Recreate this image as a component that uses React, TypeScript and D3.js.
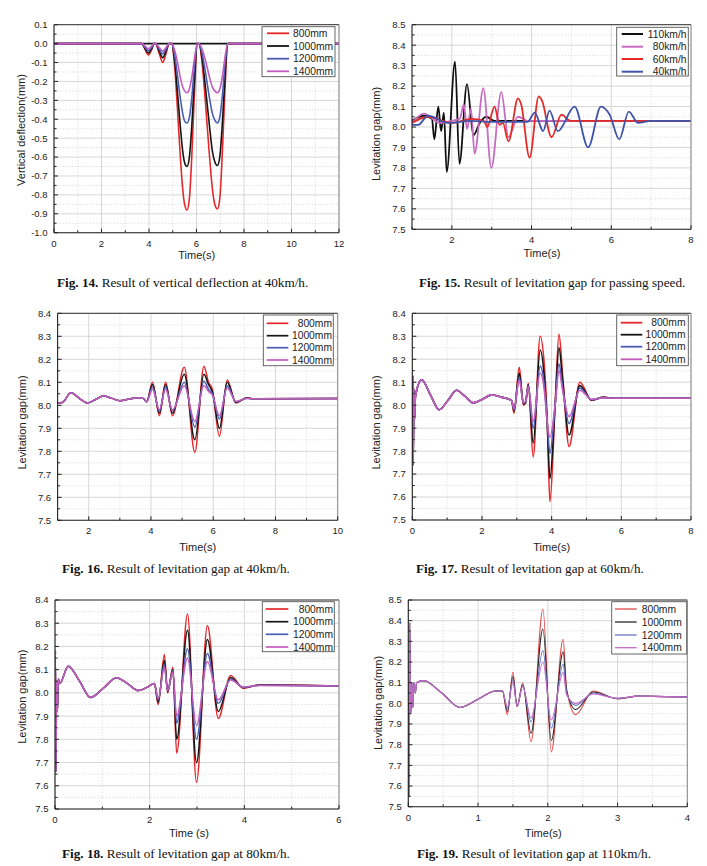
import React from "react";
import * as d3 from "d3";

const W = 707;
const H = 866;

// ---------- Fig. 14: vertical deflection at 40 km/h ----------
const deflTime = [0, 3.7, 3.85, 3.97, 4.1, 4.22, 4.27, 4.45, 4.58, 4.7, 4.85, 4.95, 5.08, 5.2, 5.32, 5.42, 5.5, 5.6, 5.7, 5.8, 5.9, 6.04, 6.1, 6.25, 6.4, 6.55, 6.67, 6.77, 6.88, 6.98, 7.08, 7.18, 7.32, 12];
const defl800 = [0, 0, -0.035, -0.06, -0.035, 0, 0, -0.06, -0.1, -0.06, 0, 0, -0.12, -0.35, -0.6, -0.77, -0.85, -0.88, -0.82, -0.6, -0.3, 0, 0, -0.12, -0.35, -0.6, -0.77, -0.85, -0.875, -0.82, -0.6, -0.3, 0, 0];
const defl1000 = [0, 0, -0.03, -0.05, -0.03, 0, 0, -0.045, -0.075, -0.045, 0, 0, -0.09, -0.26, -0.44, -0.57, -0.63, -0.65, -0.6, -0.44, -0.22, 0, 0, -0.09, -0.26, -0.44, -0.57, -0.625, -0.645, -0.6, -0.44, -0.22, 0, 0];
const defl1200 = [0, 0, -0.022, -0.038, -0.022, 0, 0, -0.033, -0.055, -0.033, 0, 0, -0.06, -0.17, -0.29, -0.37, -0.41, -0.42, -0.39, -0.29, -0.14, 0, 0, -0.06, -0.17, -0.29, -0.37, -0.405, -0.42, -0.39, -0.29, -0.14, 0, 0];
const defl1400 = [0, 0, -0.015, -0.028, -0.015, 0, 0, -0.024, -0.04, -0.024, 0, 0, -0.035, -0.1, -0.18, -0.23, -0.25, -0.26, -0.24, -0.18, -0.09, 0, 0, -0.035, -0.1, -0.18, -0.23, -0.25, -0.26, -0.24, -0.18, -0.09, 0, 0];
const zeroLineTime = [0, 12];
const zeroLineValue = [0, 0];

// ---------- Fig. 15: levitation gap for passing speed ----------
const gap110Time = [1.0, 1.3, 1.5, 1.56, 1.66, 1.73, 1.8, 1.87, 2.08, 2.19, 2.38, 2.54, 2.7, 2.86, 3.07, 3.5, 8];
const gap110 = [8.03, 8.055, 8.04, 7.94, 8.1, 7.98, 8.07, 7.78, 8.32, 7.82, 8.21, 7.96, 8.02, 8.05, 8.03, 8.03, 8.03];
const gap80Time = [1.0, 1.3, 1.7, 2.0, 2.2, 2.3, 2.38, 2.48, 2.57, 2.79, 2.99, 3.24, 3.42, 3.66, 3.9, 8];
const gap80 = [8.02, 8.065, 8.02, 8.03, 8.04, 8.11, 7.99, 8.09, 7.87, 8.19, 7.8, 8.17, 7.95, 8.05, 8.03, 8.03];
const gap60Time = [1.0, 1.4, 2.0, 2.5, 2.8, 2.89, 3.07, 3.2, 3.28, 3.42, 3.66, 3.74, 3.95, 4.18, 4.26, 4.5, 4.75, 4.98, 8];
const gap60 = [8.02, 8.05, 8.02, 8.04, 8.03, 8.0, 8.1, 8.01, 8.02, 7.93, 8.14, 8.11, 7.85, 8.15, 8.13, 7.95, 8.06, 8.03, 8.03];
const gap40Time = [1.0, 1.15, 1.4, 1.9, 2.5, 3.0, 3.9, 4.08, 4.29, 4.45, 4.66, 5.08, 5.42, 5.74, 5.96, 6.2, 6.44, 6.67, 7.0, 8];
const gap40 = [8.01, 8.01, 8.055, 8.02, 8.03, 8.025, 8.025, 8.07, 7.98, 8.08, 7.98, 8.1, 7.9, 8.1, 8.06, 7.94, 8.075, 8.02, 8.03, 8.03];

// ---------- Fig. 16: levitation gap at 40 km/h ----------
const f16Time = [1.0, 1.15, 1.43, 1.7, 1.97, 2.22, 2.47, 2.75, 3.0, 3.3, 3.6, 3.75, 3.86, 4.05, 4.27, 4.47, 4.69, 5.07, 5.41, 5.7, 5.85, 5.97, 6.2, 6.45, 6.73, 7.08, 7.3, 10];
const f16Lead = [8.01, 8.012, 8.055, 8.03, 8.01, 8.025, 8.04, 8.03, 8.02, 8.027, 8.033, 8.03, 8.015];
const f16Tail800 = [8.1, 7.955, 8.1, 7.955, 8.165, 7.795, 8.17, 8.1, 8.07, 7.865, 8.11, 8.01, 8.033, 8.028, 8.03];
const f16Tail1000 = [8.09, 7.965, 8.09, 7.965, 8.135, 7.85, 8.135, 8.09, 8.06, 7.9, 8.1, 8.012, 8.032, 8.028, 8.03];
const f16Tail1200 = [8.08, 7.975, 8.08, 7.975, 8.1, 7.905, 8.105, 8.07, 8.05, 7.94, 8.085, 8.015, 8.031, 8.028, 8.03];
const f16Tail1400 = [8.07, 7.98, 8.07, 7.98, 8.085, 7.93, 8.085, 8.06, 8.045, 7.955, 8.075, 8.017, 8.03, 8.028, 8.03];

// ---------- Fig. 17: levitation gap at 60 km/h ----------
const f17Time = [0, 0.012, 0.025, 0.045, 0.065, 0.09, 0.27, 0.52, 0.77, 1.02, 1.27, 1.5, 1.75, 2.0, 2.28, 2.55, 2.85, 2.92, 3.07, 3.19, 3.25, 3.33, 3.47, 3.67, 3.8, 3.87, 3.95, 4.1, 4.21, 4.32, 4.5, 4.81, 5.15, 5.48, 5.8, 8];
const f17Lead = [8.03, 8.13, 7.74, 8.07, 7.94, 8.04, 8.11, 8.045, 7.98, 8.02, 8.065, 8.04, 8.01, 8.025, 8.045, 8.035, 8.02];
const f17Tail800 = [7.965, 8.165, 8.0, 8.01, 8.095, 7.775, 8.3, 8.15, 7.95, 7.58, 8.0, 8.31, 8.12, 7.82, 8.1, 8.02, 8.035, 8.03, 8.03];
const f17Tail1000 = [7.975, 8.14, 8.005, 8.01, 8.09, 7.835, 8.24, 8.1, 7.93, 7.68, 8.0, 8.25, 8.1, 7.87, 8.085, 8.022, 8.034, 8.03, 8.03];
const f17Tail1200 = [7.98, 8.12, 8.01, 8.015, 8.085, 7.9, 8.17, 8.07, 7.93, 7.79, 8.0, 8.18, 8.07, 7.92, 8.075, 8.024, 8.033, 8.03, 8.03];
const f17Tail1400 = [7.985, 8.11, 8.01, 8.015, 8.08, 7.93, 8.14, 8.05, 7.93, 7.86, 8.0, 8.15, 8.06, 7.95, 8.065, 8.025, 8.032, 8.03, 8.03];

// ---------- Fig. 18: levitation gap at 80 km/h ----------
const f18Time = [0, 0.008, 0.018, 0.035, 0.05, 0.07, 0.1, 0.28, 0.52, 0.75, 1.02, 1.3, 1.53, 1.76, 1.95, 2.1, 2.18, 2.31, 2.38, 2.49, 2.57, 2.8, 2.99, 3.22, 3.45, 3.71, 3.98, 4.33, 6];
const f18Lead = [8.03, 8.18, 7.66, 8.05, 7.92, 8.06, 8.04, 8.115, 8.05, 7.98, 8.02, 8.065, 8.04, 8.01, 8.025, 8.04];
const f18Tail800 = [7.95, 8.165, 8.0, 8.11, 7.74, 8.34, 7.615, 8.29, 7.89, 8.075, 8.02, 8.035, 8.03];
const f18Tail1000 = [7.96, 8.14, 8.005, 8.1, 7.8, 8.27, 7.7, 8.23, 7.92, 8.065, 8.022, 8.034, 8.03];
const f18Tail1200 = [7.97, 8.12, 8.01, 8.095, 7.87, 8.19, 7.8, 8.17, 7.955, 8.06, 8.024, 8.033, 8.03];
const f18Tail1400 = [7.975, 8.11, 8.01, 8.09, 7.9, 8.15, 7.86, 8.135, 7.97, 8.055, 8.025, 8.032, 8.03];

// ---------- Fig. 19: levitation gap at 110 km/h ----------
const f19Time = [0, 0.01, 0.02, 0.035, 0.05, 0.065, 0.08, 0.1, 0.12, 0.22, 0.48, 0.74, 1.0, 1.25, 1.35, 1.42, 1.5, 1.56, 1.64, 1.76, 1.93, 2.05, 2.22, 2.27, 2.4, 2.65, 3.0, 3.3, 4];
const f19Lead = [8.0, 7.55, 8.39, 7.95, 8.1, 7.98, 8.1, 8.05, 8.1, 8.11, 8.05, 7.98, 8.02, 8.06, 8.06];
const f19Tail800 = [7.945, 8.15, 7.985, 8.1, 7.815, 8.455, 7.765, 8.31, 8.07, 7.945, 8.06, 8.022, 8.035, 8.03];
const f19Tail1000 = [7.96, 8.13, 7.985, 8.09, 7.855, 8.36, 7.82, 8.25, 8.06, 7.97, 8.055, 8.023, 8.035, 8.03];
const f19Tail1200 = [7.975, 8.115, 7.985, 8.085, 7.91, 8.255, 7.88, 8.19, 8.05, 7.99, 8.05, 8.024, 8.035, 8.03];
const f19Tail1400 = [7.98, 8.1, 7.985, 8.08, 7.93, 8.2, 7.92, 8.15, 8.04, 8.0, 8.045, 8.025, 8.035, 8.03];

const spanLabels = ["800mm", "1000mm", "1200mm", "1400mm"];
const speedLabels = ["110km/h", "80km/h", "60km/h", "40km/h"];

const RED = "#e5282b";
const BLACK = "#151515";
const BLUE = "#4a5db3";
const PINK = "#c35dbd";

type Series = { label: string; color: string; t: number[]; v: number[]; legend?: boolean };

type Legend = {
  x0: number; x1: number; y0: number; y1: number;
  lx0: number; lx1: number; tx: number; anchor: "start" | "end";
  rows: number[];
};

type PanelSpec = {
  id: string;
  left: number; right: number; top: number; bottom: number;
  xDomain: [number, number]; yDomain: [number, number];
  xMajor: number[]; xMinor: number[];
  yStep: number;
  xTitle: string; yTitle: string;
  xTitlePos: [number, number]; yTitlePos: [number, number];
  legend: Legend;
  figNo: string; caption: string; captionPos: [number, number];
  series: Series[];
  lineWidth: number;
};

function spanSeries(t: number[], lead: number[], tails: number[][], colors: string[]): Series[] {
  return tails.map((tail, i) => ({
    label: spanLabels[i],
    color: colors[i],
    t,
    v: lead.concat(tail),
  }));
}

const panels: PanelSpec[] = [
  {
    id: "f14",
    left: 54, right: 339, top: 24.7, bottom: 232.7,
    xDomain: [0, 12], yDomain: [-1.0, 0.1],
    xMajor: d3.range(0, 13, 2), xMinor: d3.range(1, 12, 2),
    yStep: 0.1,
    xTitle: "Time(s)", yTitle: "Vertical deflection(mm)",
    xTitlePos: [196.7, 259], yTitlePos: [21, 130],
    legend: { x0: 262, x1: 335, y0: 26.7, y1: 76.7, lx0: 267, lx1: 289, tx: 293, anchor: "start", rows: [33.3, 46, 58.7, 71.3] },
    figNo: "Fig. 14.", caption: " Result of vertical deflection at 40km/h.", captionPos: [57, 287],
    series: [
      { label: "zero", color: BLACK, t: zeroLineTime, v: zeroLineValue, legend: false },
      { label: spanLabels[0], color: RED, t: deflTime, v: defl800 },
      { label: spanLabels[1], color: BLACK, t: deflTime, v: defl1000 },
      { label: spanLabels[2], color: BLUE, t: deflTime, v: defl1200 },
      { label: spanLabels[3], color: PINK, t: deflTime, v: defl1400 },
    ],
    lineWidth: 1.6,
  },
  {
    id: "f15",
    left: 412, right: 691, top: 24.7, bottom: 229.3,
    xDomain: [1, 8], yDomain: [7.5, 8.5],
    xMajor: [2, 4, 6, 8], xMinor: [1, 3, 5, 7],
    yStep: 0.1,
    xTitle: "Time(s)", yTitle: "Levitation gap(mm)",
    xTitlePos: [542, 257], yTitlePos: [375.7, 134],
    legend: { x0: 616.7, x1: 688.3, y0: 27.3, y1: 76, lx0: 621.7, lx1: 643, tx: 686.5, anchor: "end", rows: [34, 46.7, 59, 71.7] },
    figNo: "Fig. 15.", caption: " Result of levitation gap for passing speed.", captionPos: [419, 287],
    series: [
      { label: speedLabels[0], color: "#111111", t: gap110Time, v: gap110 },
      { label: speedLabels[1], color: "#c56cc1", t: gap80Time, v: gap80 },
      { label: speedLabels[2], color: "#e42a27", t: gap60Time, v: gap60 },
      { label: speedLabels[3], color: "#3f53a9", t: gap40Time, v: gap40 },
    ],
    lineWidth: 1.8,
  },
  {
    id: "f16",
    left: 57.6, right: 337.7, top: 313.3, bottom: 520.3,
    xDomain: [1, 10], yDomain: [7.5, 8.4],
    xMajor: [2, 4, 6, 8, 10], xMinor: [1, 3, 5, 7, 9],
    yStep: 0.1,
    xTitle: "Time(s)", yTitle: "Levitation gap(mm)",
    xTitlePos: [197.7, 550.5], yTitlePos: [21.7, 422.5],
    legend: { x0: 263.3, x1: 333.3, y0: 315, y1: 365.7, lx0: 266.7, lx1: 288.3, tx: 332, anchor: "end", rows: [323.3, 335.7, 347.7, 360] },
    figNo: "Fig. 16.", caption: " Result of levitation gap at 40km/h.", captionPos: [62, 573],
    series: spanSeries(f16Time, f16Lead, [f16Tail800, f16Tail1000, f16Tail1200, f16Tail1400], [RED, BLACK, BLUE, PINK]),
    lineWidth: 1.5,
  },
  {
    id: "f17",
    left: 412.3, right: 691, top: 313.3, bottom: 520,
    xDomain: [0, 8], yDomain: [7.5, 8.4],
    xMajor: [0, 2, 4, 6, 8], xMinor: [1, 3, 5, 7],
    yStep: 0.1,
    xTitle: "Time(s)", yTitle: "Levitation gap(mm)",
    xTitlePos: [551.7, 550.5], yTitlePos: [375.7, 422.5],
    legend: { x0: 616.7, x1: 688.3, y0: 315, y1: 365.7, lx0: 620.7, lx1: 642.3, tx: 685.5, anchor: "end", rows: [322.7, 334.7, 346.7, 359.3] },
    figNo: "Fig. 17.", caption: " Result of levitation gap at 60km/h.", captionPos: [416, 573],
    series: spanSeries(f17Time, f17Lead, [f17Tail800, f17Tail1000, f17Tail1200, f17Tail1400], [RED, BLACK, BLUE, PINK]),
    lineWidth: 1.6,
  },
  {
    id: "f18",
    left: 55, right: 339, top: 600, bottom: 809,
    xDomain: [0, 6], yDomain: [7.5, 8.4],
    xMajor: [0, 2, 4, 6], xMinor: [1, 3, 5],
    yStep: 0.1,
    xTitle: "Time (s)", yTitle: "Levitation gap(mm)",
    xTitlePos: [189, 836.5], yTitlePos: [21.7, 696.7],
    legend: { x0: 262.3, x1: 334.3, y0: 601.7, y1: 651.7, lx0: 265.7, lx1: 288.3, tx: 333, anchor: "end", rows: [609, 621.7, 634.3, 647] },
    figNo: "Fig. 18.", caption: " Result of levitation gap at 80km/h.", captionPos: [62, 858],
    series: spanSeries(f18Time, f18Lead, [f18Tail800, f18Tail1000, f18Tail1200, f18Tail1400], [RED, BLACK, BLUE, PINK]),
    lineWidth: 1.5,
  },
  {
    id: "f19",
    left: 408.3, right: 687.3, top: 600, bottom: 806.7,
    xDomain: [0, 4], yDomain: [7.5, 8.5],
    xMajor: [0, 1, 2, 3, 4], xMinor: [0.5, 1.5, 2.5, 3.5],
    yStep: 0.1,
    xTitle: "Time(s)", yTitle: "Levitation gap(mm)",
    xTitlePos: [543.3, 836.5], yTitlePos: [377.7, 703],
    legend: { x0: 611.7, x1: 686.7, y0: 601.7, y1: 654, lx0: 615, lx1: 636.7, tx: 641.7, anchor: "start", rows: [609, 622, 635, 647.7] },
    figNo: "Fig. 19.", caption: " Result of levitation gap at 110km/h.", captionPos: [417, 858],
    series: spanSeries(f19Time, f19Lead, [f19Tail800, f19Tail1000, f19Tail1200, f19Tail1400], ["#e2474a", "#2a2a2a", "#6576c6", "#c56ac2"]),
    lineWidth: 1.1,
  },
];

const SANS = "'Liberation Sans', Arial, sans-serif";
const SERIF = "'Liberation Serif', 'Times New Roman', serif";

function fmtY(v: number): string {
  const s = v.toFixed(1);
  return s === "-0.0" ? "0.0" : s;
}

function Panel({ p }: { p: PanelSpec }) {
  const x = d3.scaleLinear().domain(p.xDomain).range([p.left, p.right]);
  const y = d3.scaleLinear().domain(p.yDomain).range([p.bottom, p.top]);
  const n0 = Math.round(p.yDomain[0] / p.yStep);
  const n1 = Math.round(p.yDomain[1] / p.yStep);
  const yMajor = d3.range(n0, n1 + 1).map((k) => +(k * p.yStep).toFixed(3));
  const yMinor = d3.range(n0, n1).map((k) => +((k + 0.5) * p.yStep).toFixed(3));

  const line = d3
    .line<[number, number]>()
    .x((d) => x(d[0]))
    .y((d) => y(d[1]))
    .curve(d3.curveMonotoneX);

  const clipId = `clip-${p.id}`;
  const legendSeries = p.series.filter((s) => s.legend !== false);

  return (
    <g>
      <defs>
        <clipPath id={clipId}>
          <rect x={p.left} y={p.top} width={p.right - p.left} height={p.bottom - p.top} />
        </clipPath>
      </defs>

      {/* grid */}
      <g>
        {yMinor.map((v) => (
          <line key={`ym${v}`} x1={p.left} x2={p.right} y1={y(v)} y2={y(v)} stroke="#cfcfcf" strokeWidth={0.7} strokeDasharray="1.2,1.8" />
        ))}
        {p.xMinor.map((v) => (
          <line key={`xm${v}`} x1={x(v)} x2={x(v)} y1={p.top} y2={p.bottom} stroke="#cfcfcf" strokeWidth={0.7} strokeDasharray="1.2,1.8" />
        ))}
        {yMajor.map((v) => (
          <line key={`yM${v}`} x1={p.left} x2={p.right} y1={y(v)} y2={y(v)} stroke="#cdcdcd" strokeWidth={0.8} />
        ))}
        {p.xMajor.map((v) => (
          <line key={`xM${v}`} x1={x(v)} x2={x(v)} y1={p.top} y2={p.bottom} stroke="#cdcdcd" strokeWidth={0.8} />
        ))}
      </g>

      {/* series */}
      <g clipPath={`url(#${clipId})`}>
        {p.series.map((s, i) => (
          <path
            key={i}
            d={line(s.t.map((t, j) => [t, s.v[j]] as [number, number])) || ""}
            fill="none"
            stroke={s.color}
            strokeWidth={p.lineWidth}
            strokeLinejoin="round"
          />
        ))}
      </g>

      {/* frame */}
      <line x1={p.left} x2={p.right} y1={p.top} y2={p.top} stroke="#333" strokeWidth={1} />
      <line x1={p.right} x2={p.right} y1={p.top} y2={p.bottom} stroke="#8a8a8a" strokeWidth={1} />
      <line x1={p.left} x2={p.left} y1={p.top} y2={p.bottom} stroke="#222" strokeWidth={1.1} />
      <line x1={p.left} x2={p.right} y1={p.bottom} y2={p.bottom} stroke="#222" strokeWidth={1.1} />

      {/* ticks */}
      {p.xMajor.map((v) => (
        <line key={`xt${v}`} x1={x(v)} x2={x(v)} y1={p.bottom} y2={p.bottom - 4} stroke="#222" strokeWidth={1} />
      ))}
      {p.xMinor.map((v) => (
        <line key={`xtm${v}`} x1={x(v)} x2={x(v)} y1={p.bottom} y2={p.bottom - 2.5} stroke="#222" strokeWidth={1} />
      ))}
      {yMajor.map((v) => (
        <line key={`yt${v}`} x1={p.left} x2={p.left + 4} y1={y(v)} y2={y(v)} stroke="#222" strokeWidth={1} />
      ))}
      {yMinor.map((v) => (
        <line key={`ytm${v}`} x1={p.left} x2={p.left + 2.5} y1={y(v)} y2={y(v)} stroke="#222" strokeWidth={1} />
      ))}

      {/* tick labels */}
      <g fontFamily={SANS} fontSize={9.5} fill="#222">
        {p.xMajor.map((v) => (
          <text key={`xl${v}`} x={x(v)} y={p.bottom + 14} textAnchor="middle">
            {String(v)}
          </text>
        ))}
        {yMajor.map((v) => (
          <text key={`yl${v}`} x={p.left - 6.5} y={y(v) + 3.4} textAnchor="end">
            {fmtY(v)}
          </text>
        ))}
      </g>

      {/* axis titles */}
      <text x={p.xTitlePos[0]} y={p.xTitlePos[1]} textAnchor="middle" fontFamily={SANS} fontSize={11} fill="#222">
        {p.xTitle}
      </text>
      <text
        transform={`translate(${p.yTitlePos[0]},${p.yTitlePos[1]}) rotate(-90)`}
        textAnchor="middle"
        dominantBaseline="central"
        fontFamily={SANS}
        fontSize={11}
        fill="#222"
      >
        {p.yTitle}
      </text>

      {/* legend */}
      <g>
        <rect
          x={p.legend.x0}
          y={p.legend.y0}
          width={p.legend.x1 - p.legend.x0}
          height={p.legend.y1 - p.legend.y0}
          fill="#fff"
          stroke="#555"
          strokeWidth={0.9}
        />
        {legendSeries.map((s, i) => (
          <g key={s.label}>
            <line
              x1={p.legend.lx0}
              x2={p.legend.lx1}
              y1={p.legend.rows[i]}
              y2={p.legend.rows[i]}
              stroke={s.color}
              strokeWidth={p.lineWidth + 0.2}
            />
            <text
              x={p.legend.tx}
              y={p.legend.rows[i] + 3.7}
              textAnchor={p.legend.anchor}
              fontFamily={SANS}
              fontSize={10.3}
              fill="#222"
            >
              {s.label}
            </text>
          </g>
        ))}
      </g>

      {/* caption */}
      <text x={p.captionPos[0]} y={p.captionPos[1]} fontFamily={SERIF} fontSize={13.2} fill="#111">
        <tspan fontWeight="bold">{p.figNo}</tspan>
        <tspan>{p.caption}</tspan>
      </text>
    </g>
  );
}

export default function App() {
  return (
    <svg
      width={W}
      height={H}
      viewBox={`0 0 ${W} ${H}`}
      style={{ position: "absolute", left: 0, top: 0, background: "#fff" }}
    >
      <rect x={0} y={0} width={W} height={H} fill="#fff" />
      {panels.map((p) => (
        <Panel key={p.id} p={p} />
      ))}
    </svg>
  );
}
